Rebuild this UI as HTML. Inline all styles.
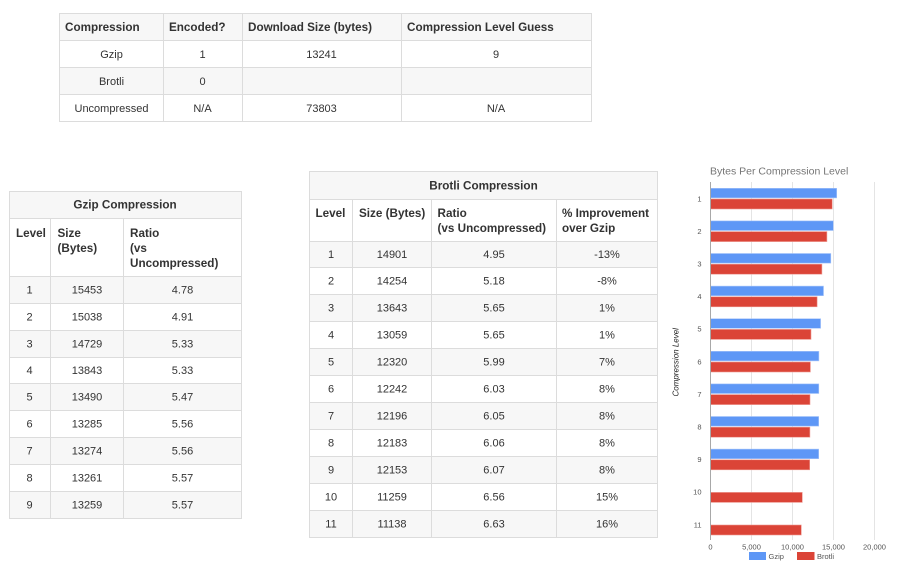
<!DOCTYPE html>
<html><head><meta charset="utf-8"><style>
html,body{margin:0;padding:0;background:#fff;}
svg{display:block;}
text{font-family:"Liberation Sans",Arial,sans-serif;}
.b{font-weight:bold;font-size:11.7px;fill:#333;}
.t{font-size:11px;fill:#333;}
.c{text-anchor:middle;}
.g{fill:#f7f7f7;}
.l{stroke:#dcdcdc;stroke-width:1;}
.ax{font-size:7.5px;fill:#555;}
</style></head><body>
<svg width="904" height="571" viewBox="0 0 904 571" xmlns="http://www.w3.org/2000/svg" shape-rendering="crispEdges">
<!-- TOP TABLE -->
<rect class="g" x="60" y="13" width="531" height="27"/>
<rect class="g" x="60" y="67" width="531" height="27"/>
<g class="l">
<line x1="59" y1="13.5" x2="592" y2="13.5"/>
<line x1="59" y1="40.5" x2="592" y2="40.5"/>
<line x1="59" y1="67.5" x2="592" y2="67.5"/>
<line x1="59" y1="94.5" x2="592" y2="94.5"/>
<line x1="59" y1="121.5" x2="592" y2="121.5"/>
<line x1="59.5" y1="13" x2="59.5" y2="122"/>
<line x1="163.5" y1="13" x2="163.5" y2="122"/>
<line x1="242.5" y1="13" x2="242.5" y2="122"/>
<line x1="401.5" y1="13" x2="401.5" y2="122"/>
<line x1="591.5" y1="13" x2="591.5" y2="122"/>
</g>
<g shape-rendering="auto">
<text class="b" x="65" y="31">Compression</text>
<text class="b" x="169" y="31">Encoded?</text>
<text class="b" x="248" y="31">Download Size (bytes)</text>
<text class="b" x="407" y="31">Compression Level Guess</text>
<text class="t c" x="111.5" y="58">Gzip</text>
<text class="t c" x="202.5" y="58">1</text>
<text class="t c" x="321.5" y="58">13241</text>
<text class="t c" x="496" y="58">9</text>
<text class="t c" x="111.5" y="85">Brotli</text>
<text class="t c" x="202.5" y="85">0</text>
<text class="t c" x="111.5" y="112">Uncompressed</text>
<text class="t c" x="202.5" y="112">N/A</text>
<text class="t c" x="321.5" y="112">73803</text>
<text class="t c" x="496" y="112">N/A</text>
</g>

<!-- GZIP TABLE -->
<rect class="g" x="9" y="191" width="232" height="27"/>
<rect class="g" x="9" y="276" width="232" height="27"/>
<rect class="g" x="9" y="330" width="232" height="27"/>
<rect class="g" x="9" y="383" width="232" height="27"/>
<rect class="g" x="9" y="437" width="232" height="27"/>
<rect class="g" x="9" y="491" width="232" height="27"/>
<g class="l">
<line x1="9" y1="191.5" x2="242" y2="191.5"/>
<line x1="9" y1="218.5" x2="242" y2="218.5"/>
<line x1="9" y1="276.5" x2="242" y2="276.5"/>
<line x1="9" y1="303.5" x2="242" y2="303.5"/>
<line x1="9" y1="330.5" x2="242" y2="330.5"/>
<line x1="9" y1="357.5" x2="242" y2="357.5"/>
<line x1="9" y1="383.5" x2="242" y2="383.5"/>
<line x1="9" y1="410.5" x2="242" y2="410.5"/>
<line x1="9" y1="437.5" x2="242" y2="437.5"/>
<line x1="9" y1="464.5" x2="242" y2="464.5"/>
<line x1="9" y1="491.5" x2="242" y2="491.5"/>
<line x1="9" y1="518.5" x2="242" y2="518.5"/>
<line x1="9.5" y1="191" x2="9.5" y2="519"/>
<line x1="50.5" y1="218" x2="50.5" y2="519"/>
<line x1="123.5" y1="218" x2="123.5" y2="519"/>
<line x1="241.5" y1="191" x2="241.5" y2="519"/>
</g>
<g shape-rendering="auto">
<text class="b c" x="125" y="208.7">Gzip Compression</text>
<text class="b" x="16" y="236.9">Level</text>
<text class="b" x="57.5" y="236.9">Size</text>
<text class="b" x="57.5" y="251.9">(Bytes)</text>
<text class="b" x="130" y="236.9">Ratio</text>
<text class="b" x="130" y="251.9">(vs</text>
<text class="b" x="130" y="266.9">Uncompressed)</text>
<text class="t c" x="29.5" y="293.5">1</text><text class="t c" x="87" y="293.5">15453</text><text class="t c" x="182.5" y="293.5">4.78</text>
<text class="t c" x="29.5" y="320.5">2</text><text class="t c" x="87" y="320.5">15038</text><text class="t c" x="182.5" y="320.5">4.91</text>
<text class="t c" x="29.5" y="347.5">3</text><text class="t c" x="87" y="347.5">14729</text><text class="t c" x="182.5" y="347.5">5.33</text>
<text class="t c" x="29.5" y="374">4</text><text class="t c" x="87" y="374">13843</text><text class="t c" x="182.5" y="374">5.33</text>
<text class="t c" x="29.5" y="400.5">5</text><text class="t c" x="87" y="400.5">13490</text><text class="t c" x="182.5" y="400.5">5.47</text>
<text class="t c" x="29.5" y="427.5">6</text><text class="t c" x="87" y="427.5">13285</text><text class="t c" x="182.5" y="427.5">5.56</text>
<text class="t c" x="29.5" y="454.5">7</text><text class="t c" x="87" y="454.5">13274</text><text class="t c" x="182.5" y="454.5">5.56</text>
<text class="t c" x="29.5" y="481.5">8</text><text class="t c" x="87" y="481.5">13261</text><text class="t c" x="182.5" y="481.5">5.57</text>
<text class="t c" x="29.5" y="508.5">9</text><text class="t c" x="87" y="508.5">13259</text><text class="t c" x="182.5" y="508.5">5.57</text>
</g>

<!-- BROTLI TABLE -->
<rect class="g" x="309" y="171" width="349" height="28"/>
<rect class="g" x="309" y="241" width="349" height="26"/>
<rect class="g" x="309" y="294" width="349" height="27"/>
<rect class="g" x="309" y="348" width="349" height="27"/>
<rect class="g" x="309" y="402" width="349" height="27"/>
<rect class="g" x="309" y="456" width="349" height="27"/>
<rect class="g" x="309" y="510" width="349" height="27"/>
<g class="l">
<line x1="309" y1="171.5" x2="658" y2="171.5"/>
<line x1="309" y1="199.5" x2="658" y2="199.5"/>
<line x1="309" y1="241.5" x2="658" y2="241.5"/>
<line x1="309" y1="267.5" x2="658" y2="267.5"/>
<line x1="309" y1="294.5" x2="658" y2="294.5"/>
<line x1="309" y1="321.5" x2="658" y2="321.5"/>
<line x1="309" y1="348.5" x2="658" y2="348.5"/>
<line x1="309" y1="375.5" x2="658" y2="375.5"/>
<line x1="309" y1="402.5" x2="658" y2="402.5"/>
<line x1="309" y1="429.5" x2="658" y2="429.5"/>
<line x1="309" y1="456.5" x2="658" y2="456.5"/>
<line x1="309" y1="483.5" x2="658" y2="483.5"/>
<line x1="309" y1="510.5" x2="658" y2="510.5"/>
<line x1="309" y1="537.5" x2="658" y2="537.5"/>
<line x1="309.5" y1="171" x2="309.5" y2="538"/>
<line x1="352.5" y1="199" x2="352.5" y2="538"/>
<line x1="431.5" y1="199" x2="431.5" y2="538"/>
<line x1="556.5" y1="199" x2="556.5" y2="538"/>
<line x1="657.5" y1="171" x2="657.5" y2="538"/>
</g>
<g shape-rendering="auto">
<text class="b c" x="483.5" y="189.3">Brotli Compression</text>
<text class="b" x="315.5" y="216.9">Level</text>
<text class="b" x="359" y="216.9">Size (Bytes)</text>
<text class="b" x="437.5" y="216.9">Ratio</text>
<text class="b" x="437.5" y="231.9">(vs Uncompressed)</text>
<text class="b" x="562" y="216.9">% Improvement</text>
<text class="b" x="562" y="231.9">over Gzip</text>
<text class="t c" x="331" y="258">1</text><text class="t c" x="392" y="258">14901</text><text class="t c" x="494" y="258">4.95</text><text class="t c" x="607" y="258">-13%</text>
<text class="t c" x="331" y="284.5">2</text><text class="t c" x="392" y="284.5">14254</text><text class="t c" x="494" y="284.5">5.18</text><text class="t c" x="607" y="284.5">-8%</text>
<text class="t c" x="331" y="311.5">3</text><text class="t c" x="392" y="311.5">13643</text><text class="t c" x="494" y="311.5">5.65</text><text class="t c" x="607" y="311.5">1%</text>
<text class="t c" x="331" y="338.5">4</text><text class="t c" x="392" y="338.5">13059</text><text class="t c" x="494" y="338.5">5.65</text><text class="t c" x="607" y="338.5">1%</text>
<text class="t c" x="331" y="365.5">5</text><text class="t c" x="392" y="365.5">12320</text><text class="t c" x="494" y="365.5">5.99</text><text class="t c" x="607" y="365.5">7%</text>
<text class="t c" x="331" y="392.5">6</text><text class="t c" x="392" y="392.5">12242</text><text class="t c" x="494" y="392.5">6.03</text><text class="t c" x="607" y="392.5">8%</text>
<text class="t c" x="331" y="419.5">7</text><text class="t c" x="392" y="419.5">12196</text><text class="t c" x="494" y="419.5">6.05</text><text class="t c" x="607" y="419.5">8%</text>
<text class="t c" x="331" y="446.5">8</text><text class="t c" x="392" y="446.5">12183</text><text class="t c" x="494" y="446.5">6.06</text><text class="t c" x="607" y="446.5">8%</text>
<text class="t c" x="331" y="473.5">9</text><text class="t c" x="392" y="473.5">12153</text><text class="t c" x="494" y="473.5">6.07</text><text class="t c" x="607" y="473.5">8%</text>
<text class="t c" x="331" y="500.5">10</text><text class="t c" x="392" y="500.5">11259</text><text class="t c" x="494" y="500.5">6.56</text><text class="t c" x="607" y="500.5">15%</text>
<text class="t c" x="331" y="527.5">11</text><text class="t c" x="392" y="527.5">11138</text><text class="t c" x="494" y="527.5">6.63</text><text class="t c" x="607" y="527.5">16%</text>
</g>

<!-- CHART -->
<g shape-rendering="auto">
<text x="710" y="174.5" style="font-size:10.5px;fill:#757575;">Bytes Per Compression Level</text>
</g>
<g stroke="#e4e4e4" stroke-width="1">
<line x1="751.5" y1="182" x2="751.5" y2="540"/>
<line x1="792.5" y1="182" x2="792.5" y2="540"/>
<line x1="833.5" y1="182" x2="833.5" y2="540"/>
<line x1="874.5" y1="182" x2="874.5" y2="540"/>
</g>
<g shape-rendering="auto">
<g fill="#5e97f6" stroke="#a9c6fa" stroke-width="0.6">
<rect x="710.5" y="188.3" width="126.2" height="9.6"/>
<rect x="710.5" y="220.9" width="122.8" height="9.6"/>
<rect x="710.5" y="253.5" width="120.3" height="9.6"/>
<rect x="710.5" y="286.1" width="113.0" height="9.6"/>
<rect x="710.5" y="318.7" width="110.1" height="9.6"/>
<rect x="710.5" y="351.3" width="108.4" height="9.6"/>
<rect x="710.5" y="383.9" width="108.3" height="9.6"/>
<rect x="710.5" y="416.5" width="108.2" height="9.6"/>
<rect x="710.5" y="449.1" width="108.2" height="9.6"/>
</g>
<g fill="#db4437" stroke="#ee9a92" stroke-width="0.6">
<rect x="710.5" y="199" width="121.7" height="10"/>
<rect x="710.5" y="231.6" width="116.4" height="10"/>
<rect x="710.5" y="264.2" width="111.4" height="10"/>
<rect x="710.5" y="296.8" width="106.6" height="10"/>
<rect x="710.5" y="329.4" width="100.5" height="10"/>
<rect x="710.5" y="362" width="99.9" height="10"/>
<rect x="710.5" y="394.6" width="99.5" height="10"/>
<rect x="710.5" y="427.2" width="99.4" height="10"/>
<rect x="710.5" y="459.8" width="99.2" height="10"/>
<rect x="710.5" y="492.4" width="91.8" height="10"/>
<rect x="710.5" y="525" width="90.8" height="10"/>
</g>
</g>
<line x1="710.5" y1="182" x2="710.5" y2="540" stroke="#a8a8a8" stroke-width="1"/>
<g shape-rendering="auto" class="ax">
<text class="ax" x="701.5" y="201.3" text-anchor="end">1</text>
<text class="ax" x="701.5" y="233.9" text-anchor="end">2</text>
<text class="ax" x="701.5" y="266.5" text-anchor="end">3</text>
<text class="ax" x="701.5" y="299.1" text-anchor="end">4</text>
<text class="ax" x="701.5" y="331.7" text-anchor="end">5</text>
<text class="ax" x="701.5" y="364.3" text-anchor="end">6</text>
<text class="ax" x="701.5" y="396.9" text-anchor="end">7</text>
<text class="ax" x="701.5" y="429.5" text-anchor="end">8</text>
<text class="ax" x="701.5" y="462.1" text-anchor="end">9</text>
<text class="ax" x="701.5" y="494.7" text-anchor="end">10</text>
<text class="ax" x="701.5" y="527.3" text-anchor="end">11</text>
<text class="ax" x="710.5" y="549.5" text-anchor="middle">0</text>
<text class="ax" x="751.5" y="549.5" text-anchor="middle">5,000</text>
<text class="ax" x="792.5" y="549.5" text-anchor="middle">10,000</text>
<text class="ax" x="833.5" y="549.5" text-anchor="middle">15,000</text>
<text class="ax" x="874.5" y="549.5" text-anchor="middle">20,000</text>
<text class="ax" x="768.5" y="558.8">Gzip</text>
<text class="ax" x="817" y="558.8">Brotli</text>
<text transform="translate(678.3,362.3) rotate(-90)" text-anchor="middle" style="font-size:8px;font-style:italic;fill:#222;">Compression Level</text>
</g>
<rect x="749" y="552" width="17" height="8" fill="#5e97f6"/>
<rect x="797" y="552" width="17.5" height="8" fill="#db4437"/>
</svg>
</body></html>
